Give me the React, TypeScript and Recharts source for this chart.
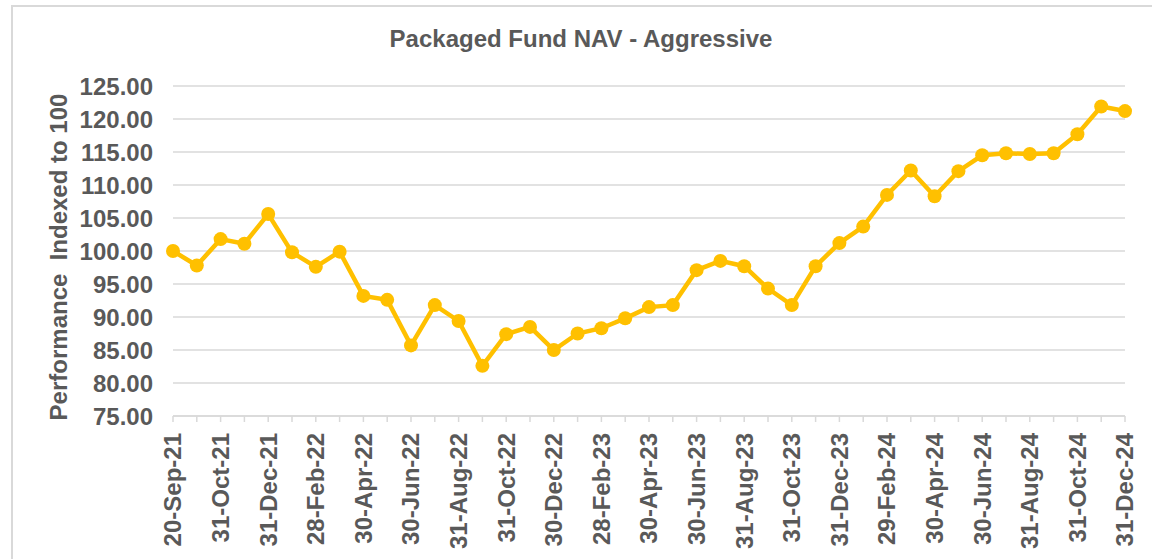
import { CartesianGrid, Line, LineChart, XAxis, YAxis } from "recharts";

const dates = [
  "20-Sep-21", "30-Sep-21", "31-Oct-21", "30-Nov-21", "31-Dec-21", "31-Jan-22",
  "28-Feb-22", "31-Mar-22", "30-Apr-22", "31-May-22", "30-Jun-22", "29-Jul-22",
  "31-Aug-22", "30-Sep-22", "31-Oct-22", "30-Nov-22", "30-Dec-22", "31-Jan-23",
  "28-Feb-23", "31-Mar-23", "30-Apr-23", "31-May-23", "30-Jun-23", "31-Jul-23",
  "31-Aug-23", "30-Sep-23", "31-Oct-23", "30-Nov-23", "31-Dec-23", "31-Jan-24",
  "29-Feb-24", "31-Mar-24", "30-Apr-24", "31-May-24", "30-Jun-24", "31-Jul-24",
  "31-Aug-24", "30-Sep-24", "31-Oct-24", "30-Nov-24", "31-Dec-24",
];

const nav = [
  100.0, 97.8, 101.8, 101.1, 105.6, 99.8, 97.6, 99.9, 93.2, 92.6, 85.7, 91.8,
  89.4, 82.6, 87.4, 88.5, 85.0, 87.5, 88.3, 89.8, 91.5, 91.8, 97.1, 98.5,
  97.7, 94.3, 91.8, 97.7, 101.2, 103.7, 108.5, 112.2, 108.3, 112.1, 114.5, 114.8,
  114.7, 114.8, 117.7, 121.9, 121.2,
];

const yTicks = [75, 80, 85, 90, 95, 100, 105, 110, 115, 120, 125];

const data = dates.map((d, i) => ({ date: d, nav: nav[i] }));

const FONT = "'Liberation Sans', Arial, sans-serif";
const TEXT = "#595959";
const GRID = "#D9D9D9";
const FS = 24;

// label every second month, tick mark on every point
function DateTick(props: any) {
  const { x, y, payload, index } = props;
  if (index % 2 !== 0) return <g />;
  return (
    <text
      transform={`translate(${x},${y}) rotate(-90)`}
      textAnchor="end"
      dy="0.35em"
      fill={TEXT}
      fontSize={FS}
      fontWeight="bold"
      fontFamily={FONT}
    >
      {payload.value}
    </text>
  );
}

export default function App() {
  return (
    <div style={{ position: "relative", width: 1152, height: 559, overflow: "hidden" }}>
      <style>{"body{margin:0}"}</style>
      {/* chart frame, cut off at the right and bottom like the source image */}
      <div
        style={{
          position: "absolute",
          left: 11,
          top: 5,
          width: 1200,
          height: 600,
          border: `2px solid ${GRID}`,
          boxSizing: "border-box",
          pointerEvents: "none",
        }}
      />
      <div
        style={{
          position: "absolute",
          left: 0,
          top: 27,
          width: 1162,
          textAlign: "center",
          fontFamily: FONT,
          fontWeight: "bold",
          fontSize: FS,
          lineHeight: `${FS}px`,
          color: TEXT,
        }}
      >
        Packaged Fund NAV - Aggressive
      </div>
      <LineChart
        width={1152}
        height={559}
        data={data}
        margin={{ top: 86, right: 27, left: 0, bottom: 0 }}
      >
        <CartesianGrid vertical={false} stroke={GRID} strokeWidth={1.5} />
        <XAxis
          dataKey="date"
          interval={0}
          height={143}
          tick={<DateTick />}
          tickSize={6}
          tickMargin={11}
          tickLine={{ stroke: GRID, strokeWidth: 1.5 }}
          axisLine={{ stroke: GRID, strokeWidth: 1.5 }}
        />
        <YAxis
          width={173}
          domain={[75, 125]}
          ticks={yTicks}
          interval={0}
          axisLine={false}
          tickLine={false}
          tickSize={6}
          tickMargin={14}
          tickFormatter={(v: number) => v.toFixed(2)}
          tick={{ fill: TEXT, fontSize: FS, fontWeight: "bold", fontFamily: FONT }}
          label={{
            content: () => (
              <text
                transform="translate(67,257) rotate(-90)"
                textAnchor="middle"
                fill={TEXT}
                fontSize={FS}
                fontWeight="bold"
                fontFamily={FONT}
                style={{ whiteSpace: "pre" }}
              >
                {"Performance  Indexed to 100"}
              </text>
            ),
          }}
        />
        <Line
          type="linear"
          dataKey="nav"
          stroke="#FFC000"
          strokeWidth={4.5}
          dot={{ r: 7, fill: "#FFC000", stroke: "#FFC000", strokeWidth: 0 }}
          activeDot={false}
          isAnimationActive={false}
        />
      </LineChart>
    </div>
  );
}
